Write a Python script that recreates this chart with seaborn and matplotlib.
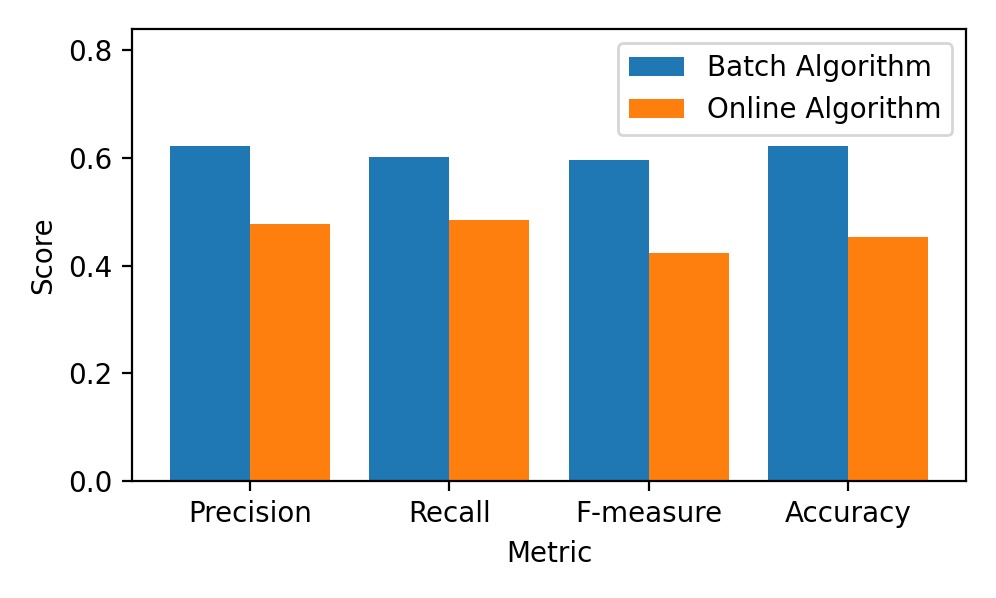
import matplotlib
matplotlib.use("Agg")
import matplotlib.pyplot as plt
import seaborn as sns
import pandas as pd

metrics = ["Precision", "Recall", "F-measure", "Accuracy"]
batch_scores = [0.622, 0.602, 0.596, 0.622]
online_scores = [0.477, 0.485, 0.423, 0.454]
series_names = ["Batch Algorithm", "Online Algorithm"]

df = pd.DataFrame({
    "Metric": metrics * 2,
    "Score": batch_scores + online_scores,
    "Algorithm": [series_names[0]] * 4 + [series_names[1]] * 4,
})

fig = plt.figure(figsize=(4.98, 2.99), dpi=200)
ax = fig.add_axes([0.1325, 0.1957, 0.8374, 0.7553])
sns.barplot(data=df, x="Metric", y="Score", hue="Algorithm",
            palette=["#1f77b4", "#ff7f0e"], saturation=1, linewidth=0,
            width=0.8, ax=ax, errorbar=None)
ax.set_xlim(-0.59, 3.59)
ax.set_ylim(0, 0.839)
ax.set_yticks([0.0, 0.2, 0.4, 0.6, 0.8])
ax.set_xlabel("Metric")
ax.set_ylabel("Score")
ax.legend(loc="upper right", title=None)
fig.savefig("out.png", dpi=200)
